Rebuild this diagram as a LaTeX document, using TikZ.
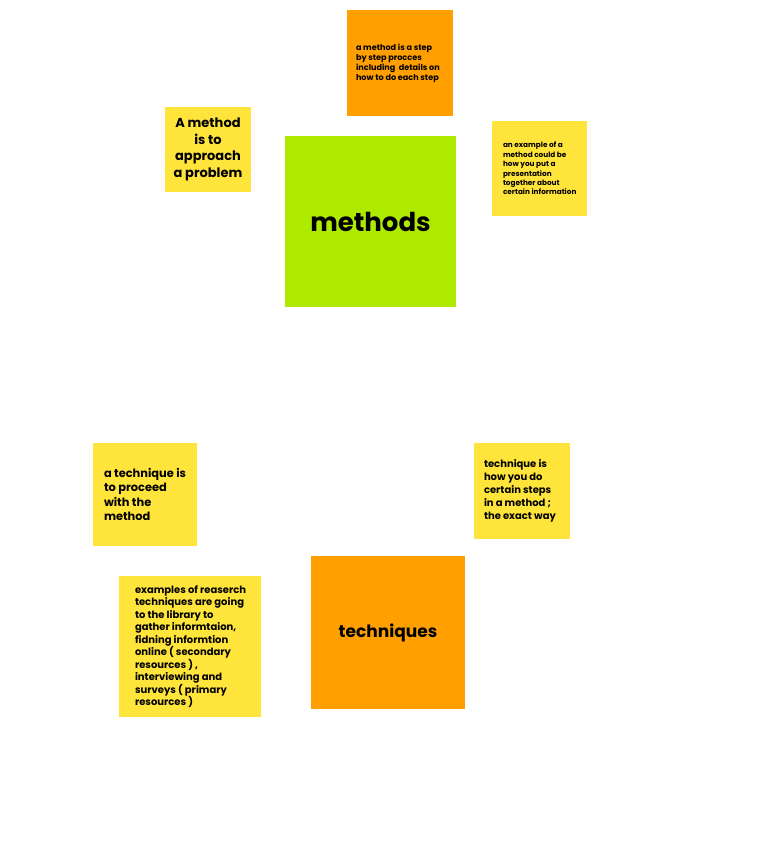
\documentclass[tikz,border=0pt]{standalone}
\usepackage{fontspec}
\setmainfont{Poppins}
\definecolor{stickyY}{HTML}{FFE53B}
\definecolor{stickyO}{HTML}{FF9F00}
\definecolor{stickyG}{HTML}{AEEA00}
\begin{document}
\begin{tikzpicture}[x=1pt,y=1pt,
  sticky/.style={rectangle,inner sep=0pt,draw=none},
  txt/.style={inner sep=0pt,anchor=west,align=left,font=\bfseries}]
\useasboundingbox (0,0) rectangle (768,-864);
% boxes: centre (cx,-cy), size
\node[sticky,fill=stickyG,minimum width=171,minimum height=171] (methods) at (370.5,-221.5) {};
\node[sticky,fill=stickyO,minimum width=106,minimum height=106] (otop) at (400,-63) {};
\node[sticky,fill=stickyY,minimum width=86,minimum height=85] (ylt) at (208,-149.5) {};
\node[sticky,fill=stickyY,minimum width=95,minimum height=95] (yrt) at (539.5,-168.5) {};
\node[sticky,fill=stickyY,minimum width=104,minimum height=103] (yml) at (145,-494.5) {};
\node[sticky,fill=stickyY,minimum width=96,minimum height=96] (ymr) at (522,-491) {};
\node[sticky,fill=stickyO,minimum width=154,minimum height=153] (tech) at (388,-632.5) {};
\node[sticky,fill=stickyY,minimum width=142,minimum height=141] (ybl) at (190,-646.5) {};
% texts
\node[inner sep=0pt,font=\bfseries\fontsize{26}{30}\selectfont] (tmethods) at (methods.center) {methods};
\node[inner sep=0pt,font=\bfseries\fontsize{17}{20}\selectfont] (ttech) at (tech.center) {techniques};
\node[txt,font=\bfseries\fontsize{8.1}{10}\selectfont] (totop) at ([xshift=9]otop.west) {a method is a step\\by step procces\\including\ \ details on\\how to do each step};
\node[inner sep=0pt,align=center,font=\bfseries\fontsize{13}{16.5}\selectfont] (tylt) at (ylt.center) {A method\\is to\\approach\\a problem};
\node[txt,font=\bfseries\fontsize{7.3}{9.4}\selectfont] (tyrt) at ([xshift=11]yrt.west) {an example of a\\method could be\\how you put a\\presentation\\together about\\certain information};
\node[txt,font=\bfseries\fontsize{11.4}{14.4}\selectfont] (tyml) at ([xshift=11]yml.west) {a technique is\\to proceed\\with the\\method};
\node[txt,font=\bfseries\fontsize{10}{13}\selectfont] (tymr) at ([xshift=10]ymr.west) {technique is\\how you do\\certain steps\\in a method ;\\the exact way};
\node[txt,font=\bfseries\fontsize{10}{12.5}\selectfont] (tybl) at ([xshift=16]ybl.west) {examples of reaserch\\techniques are going\\to the library to\\gather informtaion,\\fidning informtion\\online ( secondary\\resources ) ,\\interviewing and\\surveys ( primary\\resources )};
\end{tikzpicture}
\end{document}
